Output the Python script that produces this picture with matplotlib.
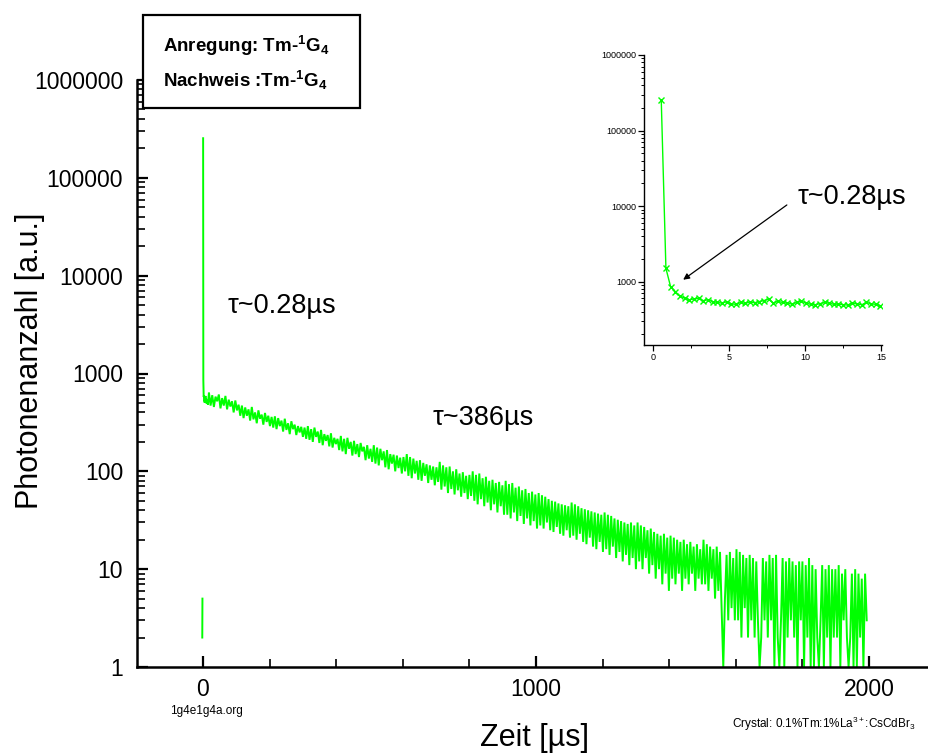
import numpy as np
import matplotlib
matplotlib.use("Agg")
import matplotlib.pyplot as plt
from matplotlib.patches import Rectangle
from matplotlib.ticker import LogLocator, NullFormatter, FixedLocator

plt.rcParams['font.family'] = ['Liberation Sans', 'DejaVu Sans']
plt.rcParams['mathtext.fontset'] = 'custom'
plt.rcParams['mathtext.rm'] = 'Liberation Sans'
plt.rcParams['mathtext.bf'] = 'Liberation Sans:bold'
plt.rcParams['mathtext.it'] = 'Liberation Sans:italic'

# ---------------- data ----------------
pre_t = [-2.0, -1.5, -1.0]
pre_counts = [2, 5, np.nan]

fast_counts = [254000, 1500, 860, 740, 640, 610, 575, 590, 600, 560, 575, 545,
               530, 520, 540, 510, 500, 530, 515, 540, 525, 545, 560, 590,
               520, 550, 530, 520, 505, 530, 550, 525, 500, 495, 510, 530,
               520, 500, 505, 495, 490, 520, 505, 495, 530, 510, 500, 480]
fast_t = np.linspace(0.55, 14.95, len(fast_counts))

slow_counts = [
    640, 470, 600, 455, 580, 520, 610, 440, 560, 470, 590, 430, 540, 460, 520, 400, 530, 420, 480, 370,
    470, 350, 450, 370, 430, 330, 455, 340, 400, 310, 420, 345, 380, 300, 395, 320, 370, 290, 360, 280,
    365, 270, 350, 290, 330, 255, 345, 265, 310, 240, 325, 270, 300, 235, 290, 250, 285, 225, 280, 215,
    290, 210, 270, 200, 280, 225, 255, 195, 265, 185, 240, 205, 235, 180, 245, 175, 220, 190, 215, 165,
    230, 160, 215, 150, 220, 170, 200, 145, 205, 150, 190, 140, 195, 160, 178, 130, 185, 135, 170, 125,
    185, 120, 175, 115, 170, 130, 160, 110, 165, 105, 150, 120, 148, 100, 145, 108, 138, 95, 140, 100,
    150, 90, 140, 85, 135, 95, 128, 82, 130, 80, 122, 90, 118, 76, 115, 82, 112, 72, 110, 78,
    125, 65, 115, 70, 110, 60, 112, 66, 100, 58, 105, 64, 95, 55, 98, 60, 90, 52, 92, 56,
    100, 50, 92, 46, 95, 52, 85, 44, 88, 48, 80, 40, 82, 46, 76, 38, 78, 44, 72, 36,
    80, 36, 74, 33, 76, 38, 68, 31, 70, 35, 64, 29, 66, 33, 60, 28, 62, 31, 58, 26,
    60, 28, 57, 26, 55, 30, 52, 25, 50, 24, 49, 27, 47, 23, 46, 22, 45, 25, 44, 21,
    48, 22, 46, 20, 44, 23, 42, 19, 41, 18, 40, 21, 39, 17, 38, 16, 37, 19, 36, 15,
    38, 16, 36, 14, 35, 17, 33, 13, 32, 15, 31, 12, 30, 14, 29, 11, 30, 13, 28, 10,
    30, 12, 28, 10, 27, 13, 25, 9, 26, 11, 24, 8, 23, 10, 22, 7, 23, 9, 21, 6,
    22, 8, 21, 7, 20, 9, 19, 6, 20, 8, 18, 7, 19, 9, 17, 6, 18, 8, 16, 7,
    20, 7, 18, 6, 17, 8, 16, 5, 17, 6, 15, 4, 1, 5, 14, 3, 15, 4, 13, 3,
    16, 3, 15, 2, 14, 4, 13, 2, 14, 3, 13, 2, 12, 3, 1, 2, 13, 3, 12, 2,
    14, 3, 13, 1, 14, 2, 1, 3, 13, 1, 12, 2, 13, 3, 12, 2, 11, 1, 12, 3,
    12, 1, 11, 2, 13, 1, 11, 1, 10, 2, 1, 3, 11, 1, 10, 2, 11, 1, 10, 2,
    10, 2, 11, 1, 9, 3, 10, 2, 1, 2, 9, 1, 10, 1, 9, 2, 8, 1, 9, 3,
]
slow_t = np.linspace(18, 1993, len(slow_counts))

y_ticks = [1, 10, 100, 1000, 10000, 100000, 1000000]
y_ticklabels = ["1", "10", "100", "1000", "10000", "100000", "1000000"]
x_ticks = [0, 1000, 2000]
x_ticklabels = ["0", "1000", "2000"]
inset_y_ticks = [1000, 10000, 100000, 1000000]
inset_y_ticklabels = ["1000", "10000", "100000", "1000000"]
inset_x_ticks = [0, 5, 10, 15]
inset_x_ticklabels = ["0", "5", "10", "15"]

GREEN = '#00ff00'

# ---------------- figure ----------------
W, H = 929, 754
fig = plt.figure(figsize=(W / 100, H / 100), dpi=100)

def fx(px):
    return px / W

def fy(py):
    return 1 - py / H

ax = fig.add_axes([fx(137), fy(667), fx(928) - fx(137), fy(80) - fy(667)])
t_all = np.concatenate([pre_t, fast_t, slow_t])
c_all = np.concatenate([pre_counts, fast_counts, slow_counts]).astype(float)
ax.plot(t_all, c_all, color=GREEN, lw=1.4, solid_joinstyle='miter')
ax.set_yscale('log')
ax.set_ylim(1, 1e6)
ax.set_xlim(-198, 2177)
for s in ['top', 'right']:
    ax.spines[s].set_visible(False)
for s in ['left', 'bottom']:
    ax.spines[s].set_linewidth(1.8)
ax.set_yticks(y_ticks)
ax.set_yticklabels(y_ticklabels)
ax.yaxis.set_minor_locator(LogLocator(base=10, subs=np.arange(2, 10)))
ax.yaxis.set_minor_formatter(NullFormatter())
ax.set_xticks(x_ticks)
ax.set_xticklabels(x_ticklabels)
ax.xaxis.set_minor_locator(FixedLocator(np.arange(-200, 2200, 200)))
ax.tick_params(axis='both', which='major', direction='in', length=8, width=1.6,
               labelsize=16.5, pad=8)
ax.tick_params(axis='both', which='minor', direction='in', length=6, width=1.2)
ax.tick_params(axis='y', which='major', pad=10)

ax.text(75, 4940, 'τ~0.28µs', fontsize=19.5, va='center', ha='left')
ax.text(690, 348, 'τ~386µs', fontsize=19.5, va='center', ha='left')

fig.text(fx(30), fy(361), 'Photonenanzahl [a.u.]', rotation=90, fontsize=22,
         ha='center', va='center')
fig.text(fx(535), fy(738), 'Zeit [µs]', fontsize=22, ha='center', va='center')
fig.text(fx(206), fy(711), '1g4e1g4a.org', fontsize=8.5, ha='center', va='center')
fig.text(fx(824), fy(724), r'Crystal: 0.1%Tm:1%La$^{3+}$:CsCdBr$_3$', fontsize=8.5,
         ha='center', va='center')

# legend-like box
box = Rectangle((fx(143), fy(108)), fx(360) - fx(143), fy(15) - fy(108),
                transform=fig.transFigure, facecolor='white', edgecolor='black',
                linewidth=1.6, zorder=5)
fig.add_artist(box)
fig.text(fx(163), fy(46), r'Anregung: Tm-$^{\mathbf{1}}$G$_{\mathbf{4}}$', fontsize=13.5,
         fontweight='bold', ha='left', va='center', zorder=6)
fig.text(fx(163), fy(80), r'Nachweis :Tm-$^{\mathbf{1}}$G$_{\mathbf{4}}$', fontsize=13.5,
         fontweight='bold', ha='left', va='center', zorder=6)

# ---------------- inset ----------------
ins = fig.add_axes([fx(644.5), fy(345), fx(882) - fx(644.5), fy(55) - fy(345)])
ins.plot(fast_t, fast_counts, color=GREEN, lw=1.0, marker='x', ms=5, mew=1.0)
ins.set_yscale('log')
ins.set_ylim(145, 1e6)
ins.set_xlim(-0.55, 15.05)
for s in ['top', 'right']:
    ins.spines[s].set_visible(False)
for s in ['left', 'bottom']:
    ins.spines[s].set_linewidth(1.0)
ins.set_yticks(inset_y_ticks)
ins.set_yticklabels(inset_y_ticklabels)
ins.yaxis.set_minor_locator(LogLocator(base=10, subs=np.arange(2, 10)))
ins.yaxis.set_minor_formatter(NullFormatter())
ins.set_xticks(inset_x_ticks)
ins.set_xticklabels(inset_x_ticklabels)
ins.xaxis.set_minor_locator(FixedLocator([2.5, 7.5, 12.5]))
ins.tick_params(axis='both', which='major', direction='out', length=4, width=0.9,
                labelsize=6.5, pad=2)
ins.tick_params(axis='both', which='minor', direction='out', length=2.5, width=0.7)
ins.patch.set_alpha(0)

ins.annotate('', xy=(1.99, 1060), xytext=(8.8, 10350),
             arrowprops=dict(arrowstyle='-|>', color='black', lw=0.9,
                             mutation_scale=9, shrinkA=0, shrinkB=0))
ins.text(9.5, 13200, 'τ~0.28µs', fontsize=19.5, va='center', ha='left')

fig.savefig('out.png', dpi=100)
